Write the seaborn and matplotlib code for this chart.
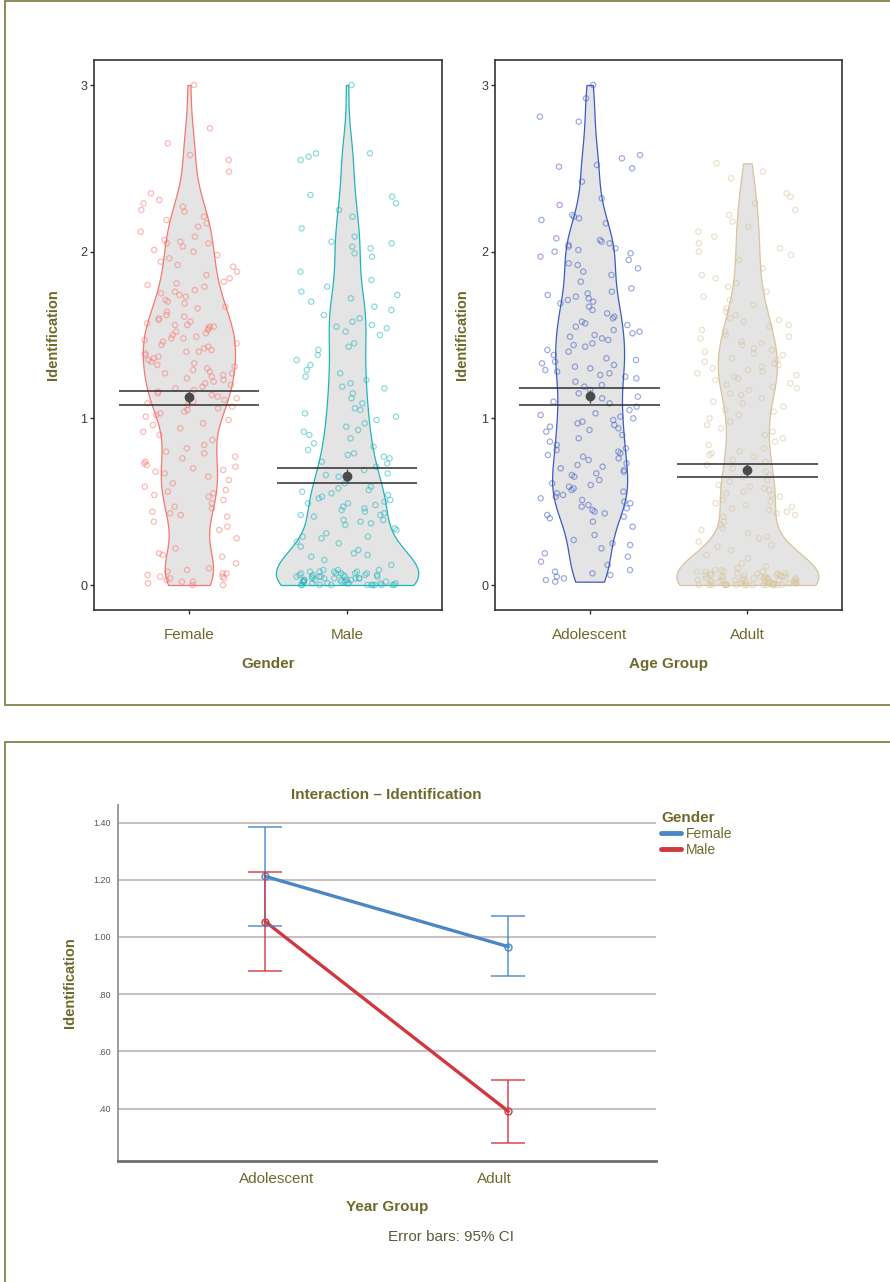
import numpy as np
import pandas as pd
import matplotlib
matplotlib.use("Agg")
import matplotlib.pyplot as plt
import seaborn as sns
from matplotlib.lines import Line2D
from matplotlib.collections import PolyCollection
from matplotlib.transforms import ScaledTranslation

# ---------------- data ----------------
gender_cats = ["Female", "Male"]
age_cats = ["Adolescent", "Adult"]

female_vals = [3.00, 2.74, 2.65, 2.58, 2.55, 2.48, 2.35, 2.31, 2.29, 2.27, 2.25, 2.24, 2.21, 2.19,
               2.17, 2.15, 2.12, 2.09, 2.07, 2.06, 2.05, 2.05, 2.03, 2.01, 2.00, 1.98, 1.96, 1.94,
               1.92, 1.91, 1.88, 1.86, 1.84, 1.82, 1.81, 1.80, 1.79, 1.77, 1.76, 1.75, 1.74, 1.73,
               1.71, 1.70, 1.69, 1.67, 1.66, 1.64, 1.62, 1.61, 1.60, 1.59, 1.58, 1.57, 1.56, 1.56,
               1.55, 1.55, 1.54, 1.53, 1.52, 1.51, 1.50, 1.49, 1.48, 1.48, 1.47, 1.46, 1.45, 1.44,
               1.43, 1.42, 1.41, 1.40, 1.40, 1.39, 1.38, 1.37, 1.36, 1.35, 1.34, 1.33, 1.32, 1.31,
               1.30, 1.29, 1.28, 1.27, 1.27, 1.26, 1.25, 1.24, 1.23, 1.22, 1.21, 1.20, 1.19, 1.18,
               1.17, 1.16, 1.15, 1.14, 1.13, 1.12, 1.11, 1.10, 1.09, 1.08, 1.07, 1.06, 1.05, 1.04,
               1.03, 1.02, 1.01, 0.99, 0.97, 0.96, 0.94, 0.92, 0.90, 0.87, 0.84, 0.82, 0.80, 0.79,
               0.77, 0.76, 0.74, 0.73, 0.72, 0.71, 0.70, 0.69, 0.68, 0.67, 0.65, 0.63, 0.61, 0.59,
               0.57, 0.56, 0.55, 0.54, 0.53, 0.51, 0.49, 0.47, 0.46, 0.44, 0.43, 0.42, 0.41, 0.38,
               0.35, 0.33, 0.28, 0.22, 0.19, 0.18, 0.17, 0.13, 0.10, 0.09, 0.08, 0.07, 0.07, 0.06,
               0.05, 0.05, 0.04, 0.04, 0.03, 0.02, 0.02, 0.01, 0.00, 0.00]

male_vals = [0.00, 0.00, 0.00, 0.00, 0.00, 0.00, 0.00, 0.00, 0.00, 0.00, 0.00, 0.01, 0.01, 0.01,
             0.01, 0.01, 0.01, 0.02, 0.02, 0.02, 0.02, 0.02, 0.02, 0.03, 0.03, 0.03, 0.03, 0.03,
             0.03, 0.04, 0.04, 0.04, 0.04, 0.04, 0.04, 0.05, 0.05, 0.05, 0.05, 0.05, 0.05, 0.06,
             0.06, 0.06, 0.06, 0.06, 0.07, 0.07, 0.07, 0.07, 0.07, 0.08, 0.08, 0.08, 0.08, 0.09,
             0.09, 0.09,
             0.12, 0.15, 0.17, 0.18, 0.19,
             0.21, 0.23, 0.25, 0.26, 0.28, 0.29, 0.29,
             0.31, 0.33, 0.34, 0.36, 0.37, 0.38, 0.39, 0.39,
             0.41, 0.42, 0.42, 0.43, 0.44, 0.45, 0.46, 0.47, 0.48, 0.49, 0.49,
             0.50, 0.51, 0.52, 0.53, 0.54, 0.55, 0.56, 0.57, 0.58, 0.59,
             0.61, 0.63, 0.65, 0.66, 0.67, 0.69,
             0.71, 0.73, 0.74, 0.76, 0.77, 0.78, 0.79,
             0.81, 0.83, 0.85, 0.88,
             0.90, 0.92, 0.93, 0.95, 0.97, 0.99,
             1.01, 1.03, 1.05, 1.06, 1.09, 1.12, 1.15, 1.18, 1.19,
             1.21, 1.23, 1.25, 1.27, 1.29, 1.32, 1.35, 1.38,
             1.41, 1.43, 1.45, 1.50, 1.52, 1.54, 1.55, 1.56, 1.58, 1.60,
             1.62, 1.65, 1.67, 1.70, 1.72, 1.74, 1.76, 1.79,
             1.83, 1.88, 1.97, 1.99,
             2.02, 2.03, 2.05, 2.06, 2.09, 2.14,
             2.21, 2.25, 2.29, 2.33, 2.34,
             2.55, 2.57, 2.59, 2.59, 3.00]

adolescent_vals = [3.00, 2.92, 2.81, 2.78, 2.58, 2.56, 2.52, 2.51, 2.50, 2.42, 2.32, 2.28, 2.22,
                   2.21, 2.20, 2.19, 2.17, 2.08, 2.07, 2.06, 2.05, 2.04, 2.03, 2.02, 2.01, 2.00,
                   1.99, 1.97, 1.95, 1.93, 1.92, 1.90, 1.88, 1.86, 1.82, 1.78, 1.76, 1.75, 1.74,
                   1.73, 1.72, 1.71, 1.70, 1.69, 1.67, 1.65, 1.63, 1.61, 1.60, 1.58, 1.57, 1.56,
                   1.55, 1.53, 1.52, 1.51, 1.50, 1.49, 1.48, 1.47, 1.45, 1.44, 1.43, 1.41, 1.40,
                   1.38, 1.36, 1.35, 1.34, 1.33, 1.32, 1.31, 1.30, 1.29, 1.28, 1.27, 1.26, 1.25,
                   1.24, 1.22, 1.20, 1.19, 1.17, 1.15, 1.13, 1.12, 1.10, 1.09, 1.07, 1.05, 1.03,
                   1.02, 1.01, 1.00, 0.99, 0.98, 0.97, 0.96, 0.95, 0.94, 0.93, 0.92, 0.90, 0.88,
                   0.86, 0.84, 0.82, 0.81, 0.80, 0.79, 0.78, 0.77, 0.76, 0.75, 0.73, 0.72, 0.71,
                   0.70, 0.69, 0.68, 0.67, 0.66, 0.65, 0.63, 0.61, 0.60, 0.59, 0.58, 0.57, 0.56,
                   0.55, 0.54, 0.53, 0.52, 0.51, 0.50, 0.49, 0.48, 0.47, 0.46, 0.45, 0.44, 0.43,
                   0.42, 0.41, 0.40, 0.38, 0.35, 0.30, 0.27, 0.25, 0.24, 0.22, 0.19, 0.17, 0.14,
                   0.12, 0.09, 0.08, 0.07, 0.06, 0.05, 0.04, 0.03, 0.02]

adult_vals = [0.00, 0.00, 0.00, 0.00, 0.00, 0.00, 0.00, 0.00, 0.00, 0.00, 0.00, 0.00, 0.00, 0.00,
              0.00, 0.00, 0.01, 0.01, 0.01, 0.01, 0.01, 0.01, 0.01, 0.01, 0.02, 0.02, 0.02, 0.02,
              0.02, 0.02, 0.02, 0.03, 0.03, 0.03, 0.03, 0.03, 0.03, 0.03, 0.04, 0.04, 0.04, 0.04,
              0.04, 0.04, 0.04, 0.05, 0.05, 0.05, 0.05, 0.05, 0.05, 0.06, 0.06, 0.06, 0.06, 0.06,
              0.07, 0.07, 0.07, 0.07, 0.07, 0.08, 0.08, 0.08, 0.08, 0.09, 0.09, 0.10,
              0.11, 0.13, 0.16, 0.18,
              0.21, 0.23, 0.24, 0.26, 0.28, 0.29,
              0.31, 0.33, 0.34, 0.36, 0.38,
              0.41, 0.42, 0.43, 0.44, 0.45, 0.46, 0.47, 0.48, 0.49,
              0.50, 0.51, 0.53, 0.54, 0.55, 0.56, 0.57, 0.58, 0.59,
              0.60, 0.62, 0.63, 0.65, 0.66, 0.68,
              0.70, 0.72, 0.74, 0.75, 0.77, 0.78, 0.79,
              0.80, 0.82, 0.84, 0.86, 0.88,
              0.90, 0.92, 0.94, 0.96, 0.98,
              1.00, 1.02, 1.04, 1.05, 1.07, 1.09,
              1.10, 1.12, 1.14, 1.15, 1.17, 1.18, 1.19,
              1.20, 1.21, 1.23, 1.24, 1.25, 1.26, 1.27, 1.28, 1.29,
              1.30, 1.31, 1.32, 1.33, 1.34, 1.35, 1.36, 1.38, 1.39,
              1.40, 1.41, 1.42, 1.44, 1.45, 1.46, 1.48, 1.49,
              1.50, 1.52, 1.53, 1.55, 1.56, 1.58, 1.59,
              1.60, 1.62, 1.64, 1.66, 1.68,
              1.71, 1.73, 1.76, 1.79,
              1.81, 1.84, 1.86, 1.90, 1.95, 1.98,
              2.00, 2.02, 2.05, 2.09, 2.12, 2.15, 2.18,
              2.22, 2.25, 2.29, 2.33, 2.35,
              2.44, 2.48, 2.53]

# summary marks (mean, interval lines, small whisker)
gender_mean = [1.126, 0.657]
gender_lo = [1.082, 0.613]
gender_hi = [1.165, 0.701]
age_mean = [1.133, 0.689]
age_lo = [1.082, 0.647]
age_hi = [1.185, 0.725]
mean_whisker = [0.04, 0.04]

# interaction plot
year_groups = ["Adolescent", "Adult"]
inter_genders = ["Female", "Male"]
female_means = [1.212, 0.966]
female_ci_lo = [1.037, 0.863]
female_ci_hi = [1.386, 1.072]
male_means = [1.054, 0.390]
male_ci_lo = [0.882, 0.280]
male_ci_hi = [1.226, 0.501]
inter_yticks = [0.40, 0.60, 0.80, 1.00, 1.20, 1.40]
inter_yticklabels = [".40", ".60", ".80", "1.00", "1.20", "1.40"]

# ---------------- style ----------------
sns.set_theme(style="white")
plt.rcParams['font.family'] = ['Liberation Sans', 'DejaVu Sans']

OLIVE = '#6E6A2C'
BORDER = '#8F8A5C'
gender_palette = {"Female": "#F8766D", "Male": "#1FB5BD"}
age_palette = {"Adolescent": "#3A5BC2", "Adult": "#D8C39A"}
inter_palette = {"Female": "#4A87C6", "Male": "#D2363E"}

np.random.seed(3)

fig = plt.figure(figsize=(8.9, 12.82), dpi=100)
W, H = 890.0, 1282.0

def axrect(x0, x1, ytop, ybot):
    return [x0 / W, 1 - ybot / H, (x1 - x0) / W, (ybot - ytop) / H]

ax1 = fig.add_axes(axrect(94, 442, 60, 610))
ax2 = fig.add_axes(axrect(495, 842, 60, 610))
ax3 = fig.add_axes(axrect(118, 655.5, 805, 1161))


def violin_panel(ax, cats, values_list, palette, means, lo, hi, xlabel, ylabel_x):
    df = pd.DataFrame({
        "group": np.concatenate([[c] * len(v) for c, v in zip(cats, values_list)]),
        "value": np.concatenate([np.asarray(v, float) for v in values_list]),
    })
    sns.violinplot(data=df, x="group", y="value", hue="group", order=cats, hue_order=cats,
                   palette=palette, inner=None, cut=0, density_norm="area", common_norm=True,
                   width=0.9, bw_adjust=0.6, gridsize=200, linewidth=0.9, saturation=1,
                   legend=False, ax=ax)
    for coll in ax.collections:
        if isinstance(coll, PolyCollection):
            fc = coll.get_facecolor()[0]
            coll.set_edgecolor((fc[0], fc[1], fc[2], 1.0))
            coll.set_facecolor('#E4E4E4')
            coll.set_linewidth(0.9)
    n0 = len(ax.collections)
    sns.stripplot(data=df, x="group", y="value", hue="group", order=cats, hue_order=cats,
                  palette=palette, jitter=0.32, size=3.8, legend=False, ax=ax)
    for coll in ax.collections[n0:]:
        fcs = coll.get_facecolors()
        if len(fcs):
            ec = fcs.copy()
            ec[:, 3] = 0.5
            coll.set_edgecolors(ec)
            coll.set_facecolors('none')
            coll.set_linewidths(0.9)
    xs = np.arange(len(cats))
    ax.hlines(lo, xs - 0.445, xs + 0.445, color='#2E2E2E', lw=1.1, zorder=6)
    ax.hlines(hi, xs - 0.445, xs + 0.445, color='#2E2E2E', lw=1.1, zorder=6)
    ax.errorbar(xs, means, yerr=mean_whisker, fmt='o', color='#4A4A4A', ms=6,
                elinewidth=1.0, capsize=0, zorder=7)
    ax.set_xlim(-0.6, 1.6)
    ax.set_ylim(-0.15, 3.15)
    ax.set_yticks([0, 1, 2, 3])
    ax.set_yticklabels(["0", "1", "2", "3"])
    for sp in ax.spines.values():
        sp.set_visible(True)
        sp.set_color('#333333')
        sp.set_linewidth(1.2)
    ax.tick_params(axis='y', direction='out', length=3, width=1, color='#333333',
                   labelsize=9, labelcolor='#3A3A3A', pad=2, left=True)
    ax.tick_params(axis='x', direction='out', length=3, width=1, color='#333333',
                   labelsize=11, labelcolor=OLIVE, pad=10, bottom=True)
    ax.set_xlabel(xlabel, fontsize=11, fontweight='bold', color=OLIVE, labelpad=11)
    ax.set_ylabel("Identification", fontsize=10.5, fontweight='bold', color=OLIVE)
    ax.yaxis.set_label_coords(ylabel_x, 0.5)


violin_panel(ax1, gender_cats, [female_vals, male_vals], gender_palette,
             gender_mean, gender_lo, gender_hi, "Gender", -0.097)
violin_panel(ax2, age_cats, [adolescent_vals, adult_vals], age_palette,
             age_mean, age_lo, age_hi, "Age Group", -0.075)

# ---------------- interaction plot ----------------
inter_df = pd.DataFrame({
    "Year Group": year_groups * 2,
    "Gender": [inter_genders[0]] * 2 + [inter_genders[1]] * 2,
    "mean": female_means + male_means,
})
sns.pointplot(data=inter_df, x="Year Group", y="mean", hue="Gender", order=year_groups,
              hue_order=inter_genders, palette=inter_palette, errorbar=None, markers='o',
              markersize=5, linewidth=2.4, dodge=False, legend=False, ax=ax3)
for ln in ax3.lines:
    ln.set_markerfacecolor('none')
    ln.set_markeredgewidth(1.0)

xs = np.arange(len(year_groups))
for g, m, lo, hi in [("Female", female_means, female_ci_lo, female_ci_hi),
                     ("Male", male_means, male_ci_lo, male_ci_hi)]:
    m = np.asarray(m); lo = np.asarray(lo); hi = np.asarray(hi)
    ax3.errorbar(xs, m, yerr=[m - lo, hi - m], fmt='none', ecolor=inter_palette[g],
                 elinewidth=1.1, capsize=12.5, capthick=1.1, alpha=0.9, zorder=3)

ax3.set_xlim(-0.605, 1.605)
ax3.set_ylim(0.2164, 1.4615)
ax3.set_yticks(inter_yticks)
ax3.set_yticklabels(inter_yticklabels)
ax3.yaxis.grid(True, color='#C9C1C1', lw=1.5)
ax3.xaxis.grid(False)
ax3.set_axisbelow(True)
ax3.spines['top'].set_visible(False)
ax3.spines['right'].set_visible(False)
ax3.spines['left'].set_color('#8A8A8A')
ax3.spines['left'].set_linewidth(1.2)
ax3.spines['bottom'].set_color('#6E6E6E')
ax3.spines['bottom'].set_linewidth(2.0)
ax3.tick_params(axis='y', length=0, labelsize=6.5, labelcolor='#555555', pad=5)
ax3.tick_params(axis='x', length=0, labelsize=11, labelcolor=OLIVE, pad=8)
# SPSS places the category labels slightly off the marker positions
for lbl, dx in zip(ax3.get_xticklabels(), [11, -14]):
    lbl.set_transform(lbl.get_transform() + ScaledTranslation(dx / 100.0, 0, fig.dpi_scale_trans))
ax3.set_xlabel("Year Group", fontsize=11, fontweight='bold', color=OLIVE, labelpad=10)
ax3.set_ylabel("Identification", fontsize=10.5, fontweight='bold', color=OLIVE)
ax3.yaxis.set_label_coords(-0.076, 0.5)
ax3.set_title("Interaction \u2013 Identification", fontsize=11, fontweight='bold',
              color=OLIVE, pad=4)

handles = [Line2D([], [], color=inter_palette[g], lw=3.5) for g in inter_genders]
leg = ax3.legend(handles, inter_genders, title="Gender", loc='upper left',
                 bbox_to_anchor=(1.0, 1.0), borderaxespad=0, frameon=False, fontsize=10,
                 title_fontproperties={'weight': 'bold', 'size': 11}, alignment='left',
                 handlelength=1.4, handletextpad=0.4, labelspacing=0.15)
leg.get_title().set_color(OLIVE)
for t in leg.get_texts():
    t.set_color(OLIVE)

fig.text(451 / W, 1 - 1237 / H, "Error bars: 95% CI", ha='center', va='center',
         fontsize=11, color='#5A5A3C')

# ---------------- panel borders ----------------
def fline(x0, y0, x1, y1):
    fig.add_artist(Line2D([x0 / W, x1 / W], [1 - y0 / H, 1 - y1 / H],
                          transform=fig.transFigure, color=BORDER, lw=1.4))

fline(5, 1, 890, 1)
fline(5, 1, 5, 705)
fline(5, 705, 890, 705)
fline(5, 742, 890, 742)
fline(5, 742, 5, 1282)

fig.savefig("out.png", dpi=100)
